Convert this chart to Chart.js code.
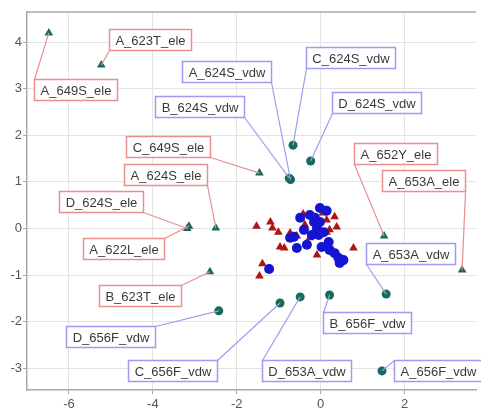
<!DOCTYPE html>
<html>
<head>
<meta charset="utf-8">
<script src="https://cdn.jsdelivr.net/npm/chart.js@4.4.0/dist/chart.umd.min.js"></script>
<style>
body { margin: 0; background: #fff; }
#wrap { width: 481px; height: 410px; position: relative; }
</style>
</head>
<body>
<div id="wrap"><canvas id="grafico"></canvas></div>
<script>
// labelled "ele" points (green triangles)
const eleNames = ["A_649S_ele", "A_623T_ele", "C_649S_ele", "A_624S_ele", "D_624S_ele", "A_622L_ele", "B_623T_ele", "A_652Y_ele", "A_653A_ele"];
const eleX = [-6.48, -5.23, -1.46, -2.50, -3.18, -3.14, -2.64, 1.51, 3.37];
const eleY = [4.20, 3.51, 1.19, 0.01, 0.00, 0.05, -0.93, -0.16, -0.89];
// where each label box sits (data units)
const eleLabelX = [-5.85, -4.08, -3.65, -3.70, -5.23, -4.69, -4.31, 1.77, 2.45];
const eleLabelY = [2.98, 4.05, 1.75, 1.17, 0.59, -0.44, -1.45, 1.60, 1.02];

// labelled "vdw" points (green circles)
const vdwNames = ["A_624S_vdw", "B_624S_vdw", "C_624S_vdw", "D_624S_vdw", "D_656F_vdw", "C_656F_vdw", "D_653A_vdw", "B_656F_vdw", "A_653A_vdw", "A_656F_vdw"];
const vdwX = [-0.72, -0.75, -0.66, -0.24, -2.43, -0.97, -0.49, 0.21, 1.56, 1.46];
const vdwY = [1.05, 1.08, 1.79, 1.45, -1.77, -1.60, -1.47, -1.43, -1.41, -3.06];
const vdwLabelX = [-2.24, -2.88, 0.71, 1.32, -5.02, -3.54, -0.35, 1.11, 2.14, 2.80];
const vdwLabelY = [3.38, 2.63, 3.68, 2.70, -2.31, -3.06, -3.06, -2.03, -0.53, -3.06];

// unlabelled cluster
const redX = [-1.53, -1.20, -1.15, -1.01, -0.97, -0.87, -0.73, -0.38, -0.26, -0.09, 0.78, -1.39, -1.46, 0.14, 0.33, 0.38, 0.21, 0.14, -0.42, -0.16, -0.57, 0.05];
const redY = [0.05, 0.14, 0.01, -0.08, -0.40, -0.42, -0.10, 0.08, -0.20, -0.57, -0.42, -0.76, -1.02, 0.18, 0.25, 0.03, -0.03, -0.08, 0.31, -0.14, -0.16, 0.33];
const blueX = [-0.02, 0.14, -0.49, -0.26, -0.16, -0.02, -0.09, 0.07, -0.40, -0.64, -0.73, -0.57, -0.33, 0.02, 0.19, 0.21, 0.33, 0.42, 0.54, 0.45, -0.05, -0.21, -1.23, -0.14];
const blueY = [0.44, 0.38, 0.23, 0.29, 0.14, 0.14, 0.01, -0.08, -0.03, -0.18, -0.20, -0.42, -0.35, -0.40, -0.29, -0.46, -0.53, -0.63, -0.68, -0.74, -0.14, -0.14, -0.87, 0.23];

const verde = '#176b5b';

function pares(xs, ys) {
	return xs.map((x, i) => ({ x: x, y: ys[i] }));
}

const grupos = [
	{ names: eleNames, x: eleX, y: eleY, lx: eleLabelX, ly: eleLabelY, cor: '#e98f8f' },
	{ names: vdwNames, x: vdwX, y: vdwY, lx: vdwLabelX, ly: vdwLabelY, cor: '#9d9df0' }
];

const caixas = {
	id: 'caixas',
	afterDatasetsDraw(chart) {
		const ctx = chart.ctx;
		const sx = chart.scales.x, sy = chart.scales.y;
		ctx.save();
		ctx.font = '13px "Liberation Sans", Arial, sans-serif';
		ctx.textAlign = 'center';
		ctx.textBaseline = 'middle';
		grupos.forEach(g => {
			g.names.forEach((nome, i) => {
				const px = sx.getPixelForValue(g.x[i]);
				const py = sy.getPixelForValue(g.y[i]);
				const cx = sx.getPixelForValue(g.lx[i]);
				const cy = sy.getPixelForValue(g.ly[i]);
				const w = Math.round(ctx.measureText(nome).width + 12);
				const h = 21;
				const l = Math.round(cx - w / 2) + 0.5, t = Math.round(cy - h / 2) + 0.5;
				const cantos = [[l, t], [l + w, t], [l, t + h], [l + w, t + h]];
				let melhor = cantos[0], dmin = Infinity;
				cantos.forEach(c => {
					const d = (c[0] - px) ** 2 + (c[1] - py) ** 2;
					if (d < dmin) { dmin = d; melhor = c; }
				});
				ctx.strokeStyle = g.cor;
				ctx.lineWidth = 1.2;
				ctx.beginPath();
				ctx.moveTo(px, py);
				ctx.lineTo(melhor[0], melhor[1]);
				ctx.stroke();
				ctx.fillStyle = '#fff';
				ctx.fillRect(l, t, w, h);
				ctx.lineWidth = 1.5;
				ctx.strokeRect(l, t, w, h);
				ctx.fillStyle = '#3a3a3a';
				ctx.fillText(nome, l + w / 2, t + h / 2 + 1);
			});
		});
		ctx.restore();
	},
	afterDraw(chart) {
		// top frame line
		const a = chart.chartArea, ctx = chart.ctx;
		ctx.save();
		ctx.strokeStyle = '#a8a8a8';
		ctx.lineWidth = 1.5;
		ctx.beginPath();
		ctx.moveTo(a.left, a.top);
		ctx.lineTo(a.right, a.top);
		ctx.stroke();
		ctx.restore();
	}
};

let grafico = document.getElementById("grafico");
var myChart = new Chart(grafico, {
	type: 'scatter',
	data: {
		datasets: [
			{
				label: 'blue',
				data: pares(blueX, blueY),
				pointStyle: 'circle',
				pointRadius: 5,
				backgroundColor: '#1414d2',
				borderColor: '#1414d2',
				borderWidth: 0
			},
			{
				label: 'red',
				data: pares(redX, redY),
				pointStyle: 'triangle',
				pointRadius: 5,
				backgroundColor: '#ad1515',
				borderColor: '#ad1515',
				borderWidth: 0
			},
			{
				label: 'vdw',
				data: pares(vdwX, vdwY),
				pointStyle: 'circle',
				pointRadius: 4.5,
				backgroundColor: verde,
				borderColor: verde,
				borderWidth: 0
			},
			{
				label: 'ele',
				data: pares(eleX, eleY),
				pointStyle: 'triangle',
				pointRadius: 5,
				backgroundColor: verde,
				borderColor: verde,
				borderWidth: 0
			}
		]
	},
	options: {
		responsive: true,
		maintainAspectRatio: false,
		animation: false,
		layout: { padding: { top: 12, right: 0, left: 0, bottom: 0 } },
		plugins: {
			legend: { display: false },
			tooltip: { enabled: false }
		},
		scales: {
			x: {
				type: 'linear',
				min: -7,
				max: 3.7,
				afterFit: s => { s.height = 20; },
				border: { color: '#a8a8a8', width: 1.5 },
				grid: { color: '#e4e4e4', tickColor: '#a8a8a8', tickLength: 4 },
				ticks: {
					stepSize: 2,
					includeBounds: false,
					padding: 3,
					color: '#555',
					font: { family: '"Liberation Sans", Arial, sans-serif', size: 13 }
				}
			},
			y: {
				type: 'linear',
				min: -3.47,
				max: 4.65,
				afterFit: s => { s.width = 27; },
				border: { color: '#a8a8a8', width: 1.5 },
				grid: { color: '#e4e4e4', tickColor: '#a8a8a8', tickLength: 4 },
				ticks: {
					stepSize: 1,
					includeBounds: false,
					padding: 1,
					color: '#555',
					font: { family: '"Liberation Sans", Arial, sans-serif', size: 13 }
				}
			}
		}
	},
	plugins: [caixas]
});
</script>
</body>
</html>
